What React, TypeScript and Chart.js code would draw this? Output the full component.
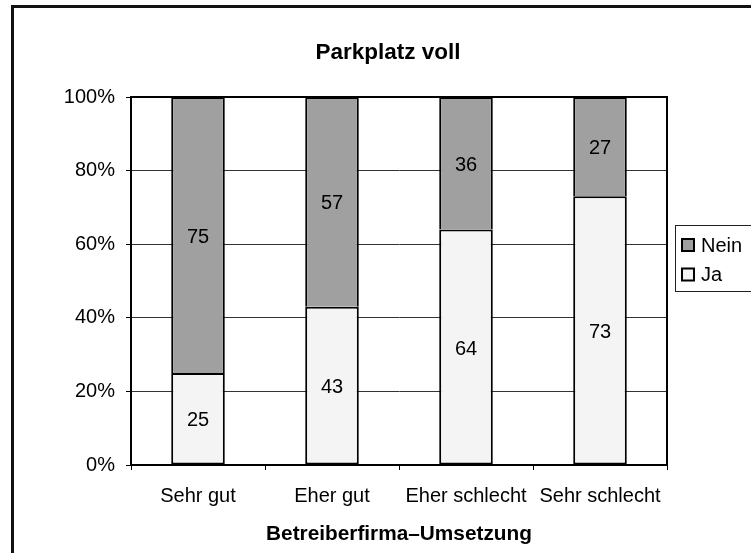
import React, { useEffect, useRef } from "react";
import { Chart, registerables } from "chart.js";

Chart.register(...registerables);

const categories = ["Sehr gut", "Eher gut", "Eher schlecht", "Sehr schlecht"];
const jaValues = [25, 43, 64, 73];
const neinValues = [75, 57, 36, 27];
const seriesLabels = ["Ja", "Nein"];
const yMin = 0;
const yMax = 100;
const yStep = 20;
const chartTitle = "Parkplatz voll";
const xAxisTitle = "Betreiberfirma–Umsetzung";

const FONT = "'Liberation Sans', Arial, sans-serif";
const JA_COLOR = "#f4f4f4";
const NEIN_COLOR = "#a0a0a0";

const frame = {
  id: "frame",
  beforeDraw(chart: any) {
    const ctx = chart.ctx;
    ctx.save();
    ctx.fillStyle = "#fff";
    ctx.fillRect(0, 0, chart.width, chart.height);
    ctx.strokeStyle = "#111";
    ctx.lineWidth = 3;
    ctx.strokeRect(12.5, 6.5, 2000, 2000);
    // chart title
    ctx.fillStyle = "#000";
    ctx.font = `bold 22.5px ${FONT}`;
    ctx.textAlign = "center";
    ctx.textBaseline = "middle";
    ctx.fillText(chartTitle, 388, 53);
    ctx.restore();
  },
  afterDatasetsDraw(chart: any) {
    const ctx = chart.ctx;
    const a = chart.chartArea;
    ctx.save();
    ctx.strokeStyle = "#000";
    ctx.lineWidth = 2;
    ctx.strokeRect(a.left, a.top, a.right - a.left, a.bottom - a.top);
    // value labels
    ctx.fillStyle = "#000";
    ctx.font = `20px ${FONT}`;
    ctx.textAlign = "center";
    ctx.textBaseline = "middle";
    chart.data.datasets.forEach((ds: any, i: number) => {
      const meta = chart.getDatasetMeta(i);
      meta.data.forEach((bar: any, j: number) => {
        const p = bar.getProps(["x", "y", "base"], true);
        ctx.fillText(String(ds.data[j]), p.x, (p.y + p.base) / 2 + 2);
      });
    });
    ctx.restore();
  },
  afterDraw(chart: any) {
    const ctx = chart.ctx;
    ctx.save();
    ctx.strokeStyle = "#222";
    ctx.lineWidth = 1;
    ctx.strokeRect(675.5, 225.5, 200, 66);
    const items = chart.data.datasets.slice().reverse();
    ctx.font = `20px ${FONT}`;
    ctx.textBaseline = "middle";
    ctx.textAlign = "left";
    items.forEach((ds: any, k: number) => {
      const cy = 245 + k * 29.5;
      ctx.fillStyle = ds.backgroundColor;
      ctx.fillRect(682, cy - 6, 12, 12);
      ctx.strokeStyle = "#000";
      ctx.lineWidth = 2;
      ctx.strokeRect(682, cy - 6, 12, 12);
      ctx.fillStyle = "#000";
      ctx.fillText(ds.label, 701, cy + 1);
    });
    ctx.restore();
  },
};

export default function App() {
  const ref = useRef<HTMLCanvasElement>(null);
  useEffect(() => {
    if (!ref.current) return;
    const chart = new Chart(ref.current, {
      type: "bar",
      data: {
        labels: categories,
        datasets: [
          {
            label: seriesLabels[0],
            data: jaValues,
            backgroundColor: JA_COLOR,
            borderColor: "#000",
            borderWidth: 2,
            borderSkipped: false,
            barPercentage: 0.4,
            categoryPercentage: 1,
          },
          {
            label: seriesLabels[1],
            data: neinValues,
            backgroundColor: NEIN_COLOR,
            borderColor: "#000",
            borderWidth: 2,
            borderSkipped: "start",
            barPercentage: 0.4,
            categoryPercentage: 1,
          },
        ],
      },
      options: {
        responsive: false,
        animation: false,
        devicePixelRatio: 1,
        layout: { padding: { left: 0, right: 84, top: 97, bottom: 0 } },
        plugins: {
          legend: { display: false },
          tooltip: { enabled: false },
          title: { display: false },
        },
        scales: {
          x: {
            stacked: true,
            offset: true,
            afterFit: (s: any) => {
              s.height = 88;
            },
            grid: {
              offset: true,
              drawOnChartArea: false,
              tickLength: 5,
              tickColor: "#000",
              lineWidth: 1,
            },
            border: { display: true, color: "#000", width: 2 },
            ticks: {
              color: "#000",
              font: { family: FONT, size: 20 },
              padding: 14,
              maxRotation: 0,
              autoSkip: false,
            },
            title: {
              display: true,
              text: xAxisTitle,
              color: "#000",
              font: { family: FONT, size: 20.8, weight: "bold" },
              padding: { top: 0, bottom: 6 },
            },
          },
          y: {
            stacked: true,
            min: yMin,
            max: yMax,
            afterFit: (s: any) => {
              s.width = 131;
            },
            grid: {
              color: "#333",
              lineWidth: 1,
              tickLength: 5,
              tickColor: "#000",
            },
            border: { display: true, color: "#000", width: 2 },
            ticks: {
              stepSize: yStep,
              color: "#000",
              font: { family: FONT, size: 20 },
              padding: 11,
              callback: (v: any) => `${v}%`,
            },
          },
        },
      },
      plugins: [frame],
    });
    return () => chart.destroy();
  }, []);
  return (
    <div style={{ position: "absolute", left: 0, top: 0, width: 751, height: 553 }}>
      <canvas ref={ref} width={751} height={553} style={{ display: "block" }} />
    </div>
  );
}
